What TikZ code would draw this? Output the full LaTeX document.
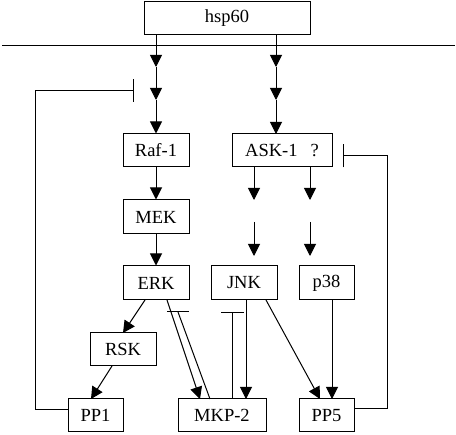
\documentclass[tikz,border=0pt]{standalone}
\usepackage{fontspec}
\setmainfont{Liberation Serif}
\usetikzlibrary{arrows.meta}
\begin{document}
\begin{tikzpicture}[x=1pt,y=-1pt,
  box/.style={draw, line width=1pt, inner sep=0pt, minimum height=33pt, font=\fontsize{18.5}{22}\selectfont},
  conn/.style={line width=1pt},
  act/.style={conn, -{Triangle[length=12pt,width=12pt]}},
  inh/.style={conn, -{Bar[width=23pt,line width=1pt]}}]
\useasboundingbox (0,0) rectangle (456,435);
% nodes
\node[box, minimum width=166pt] (hsp) at (227,18.5) {hsp60};
\node[box, minimum width=66pt] (raf) at (156,150.5) {Raf-1};
\node[box, minimum width=100pt] (ask) at (282,150.5) {ASK-1\hspace{0.7em}?};
\node[box, minimum width=66pt, minimum height=34pt] (mek) at (156,217) {MEK};
\node[box, minimum width=66pt, minimum height=34pt] (erk) at (156,283) {ERK};
\node[box, minimum width=66pt, minimum height=34pt] (jnk) at (244,283) {JNK};
\node[box, minimum width=55pt, minimum height=34pt] (p38) at (326.5,283) {p38};
\node[box, minimum width=66pt] (rsk) at (123,349.5) {RSK};
\node[box, minimum width=55pt] (pp1) at (95.5,415.5) {PP1};
\node[box, minimum width=88pt] (mkp) at (222,415.5) {MKP-2};
\node[box, minimum width=55pt] (pp5) at (326.5,415.5) {PP5};
% membrane
\coordinate (mL) at (2,46);
\coordinate (mR) at (455,46);
\draw[conn] (mL) -- (mR);
% hsp60 -> Raf-1
\coordinate (a0) at (156,35);
\coordinate (a1) at (156,67);
\coordinate (a2) at (156,100);
\draw[act] (a0) -- (a1);
\draw[act] (a1) -- (a2);
\draw[act] (a2) -- (raf.north);
% hsp60 -> ASK-1
\coordinate (b0) at (276,35);
\coordinate (b1) at (276,67);
\coordinate (b2) at (276,100);
\coordinate (b3) at (276,134);
\draw[act] (b0) -- (b1);
\draw[act] (b1) -- (b2);
\draw[act] (b2) -- (b3);
% Raf -> MEK -> ERK
\draw[act] (raf) -- (mek);
\draw[act] (mek) -- (erk);
% ASK-1 downstream (gapped)
\coordinate (c0) at (254,167);
\coordinate (c1) at (254,200);
\coordinate (c2) at (254,222);
\coordinate (c3) at (254,256);
\coordinate (d0) at (310,167);
\coordinate (d1) at (310,200);
\coordinate (d2) at (310,222);
\coordinate (d3) at (310,256);
\draw[act] (c0) -- (c1);
\draw[act] (c2) -- (c3);
\draw[act] (d0) -- (d1);
\draw[act] (d2) -- (d3);
% ERK -> RSK -> PP1
\coordinate (e1) at (145,300);
\coordinate (e2) at (123,333);
\draw[act] (e1) -- (e2);
\coordinate (r1) at (112,366);
\coordinate (r2) at (91,399);
\draw[act] (r1) -- (r2);
% ERK -> MKP-2
\coordinate (f1) at (167,300);
\coordinate (f2) at (200,399);
\draw[act] (f1) -- (f2);
% MKP-2 -| ERK
\coordinate (g1) at (210,399);
\coordinate (g2) at (178,312);
\coordinate (g3) at (167,312);
\coordinate (g4) at (189,312);
\draw[conn] (g1) -- (g2);
\draw[conn] (g3) -- (g4);
% JNK -> MKP-2
\coordinate (h1) at (246,300);
\coordinate (h2) at (246,399);
\draw[act] (h1) -- (h2);
% MKP-2 -| JNK
\coordinate (i1) at (232.5,399);
\coordinate (i2) at (232.5,312);
\draw[inh] (i1) -- (i2);
% JNK -> PP5
\coordinate (j1) at (266,300);
\coordinate (j2) at (320,399);
\draw[act] (j1) -- (j2);
% p38 -> PP5
\coordinate (k1) at (332,300);
\coordinate (k2) at (332,399);
\draw[act] (k1) -- (k2);
% PP1 -| Raf pathway
\coordinate (l1) at (68,410);
\coordinate (l2) at (35,410);
\coordinate (l3) at (35,91);
\coordinate (l4) at (134,91);
\draw[inh] (l1) -- (l2) -- (l3) -- (l4);
% PP5 -| ASK-1
\coordinate (n1) at (354,409);
\coordinate (n2) at (387,409);
\coordinate (n3) at (387,156);
\coordinate (n4) at (343,156);
\draw[inh] (n1) -- (n2) -- (n3) -- (n4);
\end{tikzpicture}
\end{document}
